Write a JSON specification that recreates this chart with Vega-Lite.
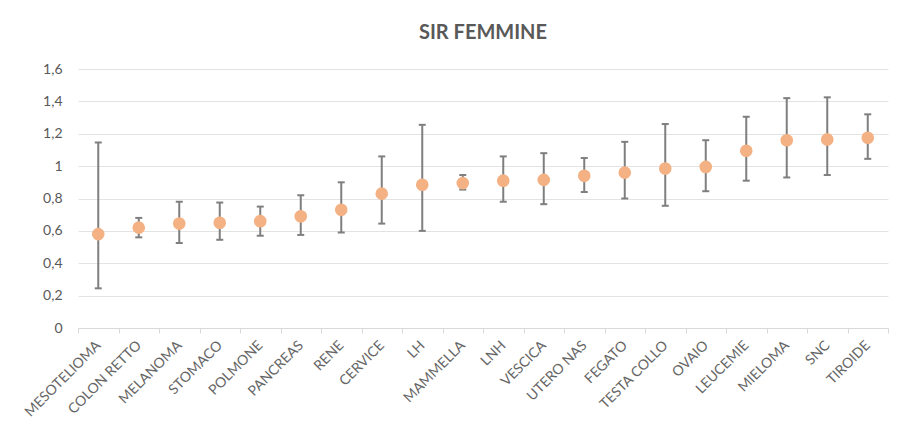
{
  "$schema": "https://vega.github.io/schema/vega-lite/v6.json",
  "autosize": "none",
  "width": 810,
  "height": 259,
  "padding": {"left": 78, "top": 69, "right": 18, "bottom": 112},
  "background": "white",
  "title": {"text": "SIR FEMMINE", "font": "Lato", "fontSize": 20, "fontWeight": "bold", "color": "#595959", "offset": 19, "anchor": "middle"},
  "config": {"view": {"stroke": null}, "font": "Lato"},
  "data": {"values": [
    {"sede": "MESOTELIOMA", "sir": 0.58, "lo": 0.245, "hi": 1.146},
    {"sede": "COLON RETTO", "sir": 0.62, "lo": 0.56, "hi": 0.68},
    {"sede": "MELANOMA", "sir": 0.645, "lo": 0.525, "hi": 0.78},
    {"sede": "STOMACO", "sir": 0.65, "lo": 0.545, "hi": 0.775},
    {"sede": "POLMONE", "sir": 0.66, "lo": 0.57, "hi": 0.75},
    {"sede": "PANCREAS", "sir": 0.69, "lo": 0.575, "hi": 0.82},
    {"sede": "RENE", "sir": 0.73, "lo": 0.59, "hi": 0.9},
    {"sede": "CERVICE", "sir": 0.83, "lo": 0.645, "hi": 1.06},
    {"sede": "LH", "sir": 0.885, "lo": 0.6, "hi": 1.255},
    {"sede": "MAMMELLA", "sir": 0.895, "lo": 0.855, "hi": 0.945},
    {"sede": "LNH", "sir": 0.91, "lo": 0.78, "hi": 1.06},
    {"sede": "VESCICA", "sir": 0.915, "lo": 0.765, "hi": 1.08},
    {"sede": "UTERO NAS", "sir": 0.94, "lo": 0.84, "hi": 1.05},
    {"sede": "FEGATO", "sir": 0.96, "lo": 0.8, "hi": 1.15},
    {"sede": "TESTA COLLO", "sir": 0.985, "lo": 0.755, "hi": 1.26},
    {"sede": "OVAIO", "sir": 0.995, "lo": 0.845, "hi": 1.16},
    {"sede": "LEUCEMIE", "sir": 1.095, "lo": 0.91, "hi": 1.305},
    {"sede": "MIELOMA", "sir": 1.16, "lo": 0.93, "hi": 1.42},
    {"sede": "SNC", "sir": 1.165, "lo": 0.945, "hi": 1.425},
    {"sede": "TIROIDE", "sir": 1.175, "lo": 1.045, "hi": 1.32}
  ]},
  "encoding": {
    "x": {
      "field": "sede", "type": "nominal", "sort": null, "title": null,
      "scale": {"paddingInner": 0, "paddingOuter": 0},
      "axis": {
        "labelAngle": -45, "labelAlign": "right", "labelBaseline": "middle",
        "labelColor": "#666666", "labelFontSize": 14, "labelPadding": 10,
        "labelOverlap": false,
        "domainColor": "#d9d9d9", "tickColor": "#d9d9d9", "tickSize": 5,
        "tickBand": "extent", "grid": false
      }
    }
  },
  "layer": [
    {
      "mark": {"type": "rule", "color": "#7f7f7f", "strokeWidth": 2},
      "encoding": {
        "y": {"field": "lo", "type": "quantitative", "title": null,
          "scale": {"domain": [0, 1.6], "nice": false},
          "axis": {"values": [0, 0.2, 0.4, 0.6, 0.8, 1, 1.2, 1.4, 1.6], "tickCount": 12,
            "labelExpr": "replace(format(datum.value, '~f'), '.', ',')",
            "labelOverlap": false,
            "domain": false, "ticks": false, "gridColor": "#e3e3e3", "gridWidth": 1,
            "labelColor": "#595959", "labelFontSize": 14, "labelPadding": 16}},
        "y2": {"field": "hi"}
      }
    },
    {
      "mark": {"type": "tick", "color": "#7f7f7f", "size": 7, "thickness": 2, "opacity": 1},
      "encoding": {"y": {"field": "lo", "type": "quantitative"}}
    },
    {
      "mark": {"type": "tick", "color": "#7f7f7f", "size": 7, "thickness": 2, "opacity": 1},
      "encoding": {"y": {"field": "hi", "type": "quantitative"}}
    },
    {
      "mark": {"type": "circle", "color": "#F4B183", "size": 160, "opacity": 1},
      "encoding": {"y": {"field": "sir", "type": "quantitative"}}
    }
  ]
}
